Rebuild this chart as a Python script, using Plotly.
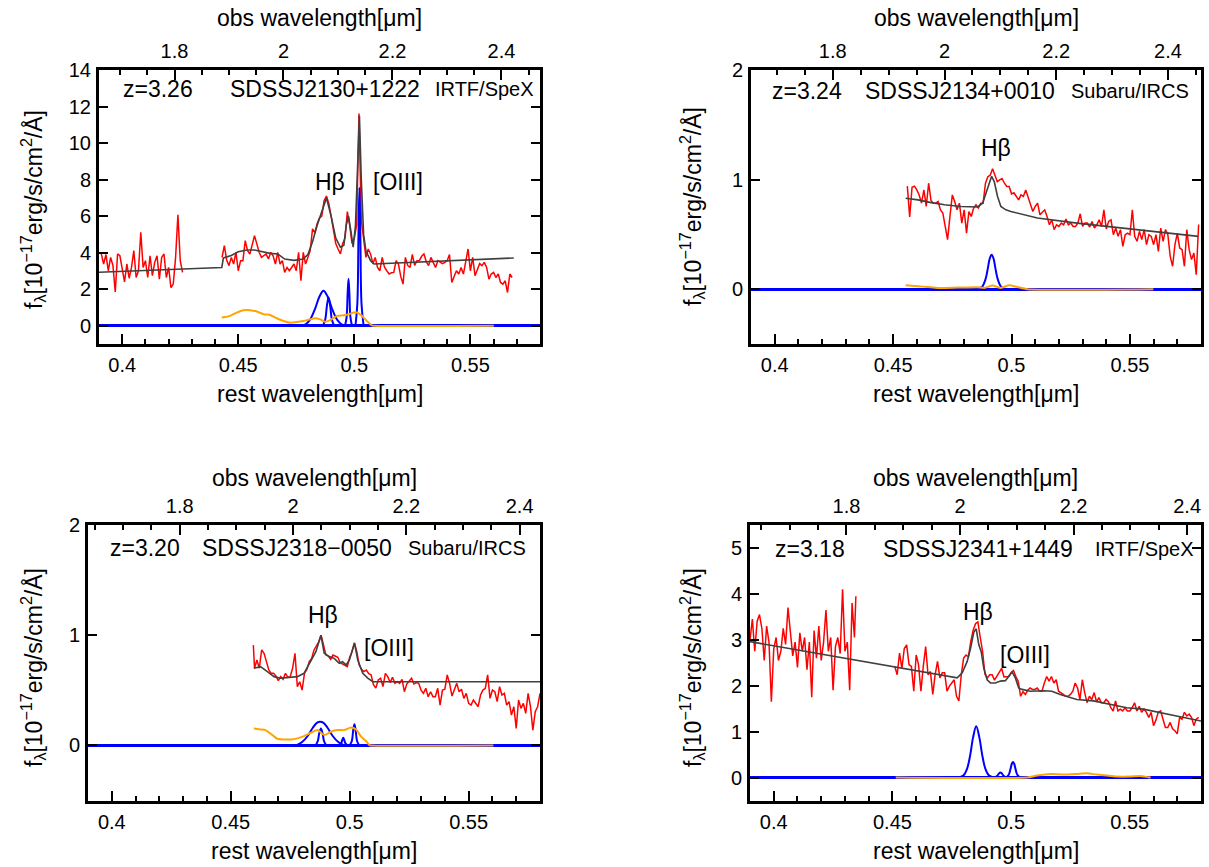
import plotly.graph_objects as go

W, H = 1209, 867
FONT = "Liberation Sans, Arial, Helvetica, sans-serif"

# ======================= DATA =======================
REST_RANGE = [0.39, 0.58]
REST_TICKS = [0.40, 0.45, 0.50, 0.55]
REST_TICK_TEXT = ["0.4", "0.45", "0.5", "0.55"]
OBS_TICKS = [1.8, 2.0, 2.2, 2.4]
OBS_TICK_TEXT = ["1.8", "2", "2.2", "2.4"]

# ---------- Panel 1: SDSSJ2130+1222 ----------
P1_Z = 3.26
P1_NAME = "SDSSJ2130+1222"
P1_INSTR = "IRTF/SpeX"
P1_YRANGE = [-1, 14]
P1_YTICKS = [0, 2, 4, 6, 8, 10, 12, 14]
P1_RED_A_WL = [0.391, 0.392, 0.393, 0.394, 0.395, 0.396, 0.397, 0.398, 0.399, 0.400,
               0.401, 0.402, 0.403, 0.404, 0.405, 0.406, 0.407, 0.408, 0.409, 0.410,
               0.411, 0.412, 0.413, 0.414, 0.415, 0.416, 0.417, 0.418, 0.419, 0.420,
               0.421, 0.422, 0.423, 0.424, 0.425, 0.426]
P1_RED_A_F = [3.93, 3.38, 3.90, 3.01, 3.74, 3.30, 1.85, 3.93, 3.83, 3.00,
              2.40, 3.38, 2.60, 3.19, 4.11, 2.64, 3.01, 5.12, 3.19, 3.56,
              2.64, 3.83, 2.74, 3.47, 3.83, 2.55, 3.74, 3.93, 2.64, 3.19,
              2.09, 2.28, 3.74, 6.07, 3.56, 2.92]
P1_RED_B_WL = [0.443, 0.444, 0.445, 0.446, 0.447, 0.448, 0.449, 0.450, 0.451, 0.452,
               0.453, 0.454, 0.455, 0.456, 0.457, 0.458, 0.459, 0.460, 0.461, 0.462,
               0.463, 0.464, 0.465, 0.466, 0.467, 0.468, 0.469, 0.470, 0.471, 0.472,
               0.473, 0.474, 0.475, 0.476, 0.477, 0.478, 0.479, 0.480, 0.481, 0.482,
               0.483, 0.484, 0.485, 0.486, 0.487, 0.488, 0.489, 0.490, 0.491, 0.492,
               0.493, 0.494, 0.495, 0.496, 0.497, 0.498, 0.499, 0.500, 0.501, 0.502,
               0.503, 0.504, 0.505, 0.506, 0.507, 0.508, 0.509, 0.510, 0.511, 0.512,
               0.513, 0.514, 0.515, 0.516, 0.517, 0.518, 0.519, 0.520, 0.521, 0.522,
               0.523, 0.524, 0.525, 0.526, 0.527, 0.528, 0.529, 0.530, 0.531, 0.532,
               0.533, 0.534, 0.535, 0.536, 0.537, 0.538, 0.539, 0.540, 0.541, 0.542,
               0.543, 0.544, 0.545, 0.546, 0.547, 0.548, 0.549, 0.550, 0.551, 0.552,
               0.553, 0.554, 0.555, 0.556, 0.557, 0.558, 0.559, 0.560, 0.561, 0.562,
               0.563, 0.564, 0.565, 0.566, 0.567, 0.568]
P1_RED_B_F = [3.74, 4.38, 3.60, 3.29, 3.74, 3.38, 4.02, 3.01, 3.56, 3.56,
              4.66, 4.11, 3.93, 4.48, 4.93, 4.48, 4.02, 3.74, 3.83, 3.93,
              3.65, 4.02, 3.83, 3.38, 4.02, 3.38, 3.56, 2.92, 3.19, 3.01,
              3.19, 3.38, 3.01, 4.02, 2.46, 4.02, 3.38, 3.74, 4.11, 5.30,
              5.10, 5.60, 5.90, 6.00, 6.86, 7.10, 6.70, 6.00, 5.20, 4.50,
              4.20, 3.93, 4.50, 4.80, 6.25, 5.50, 4.50, 4.80, 5.50, 11.62,
              5.80, 4.84, 3.74, 4.20, 3.93, 3.40, 3.74, 3.19, 3.01, 3.74,
              3.20, 3.01, 2.83, 2.90, 2.92, 3.56, 3.38, 2.70, 2.28, 3.74,
              3.30, 3.19, 3.90, 3.30, 3.56, 3.56, 3.80, 3.93, 3.50, 3.29,
              3.74, 3.47, 3.19, 3.56, 3.47, 3.40, 3.47, 3.56, 3.90, 2.37,
              2.70, 3.01, 2.83, 3.19, 2.83, 3.56, 4.20, 3.01, 3.74, 2.74,
              3.10, 3.40, 3.29, 3.47, 3.19, 2.55, 2.83, 2.92, 2.64, 2.83,
              2.37, 2.28, 2.46, 1.82, 2.83, 2.64]
P1_MODEL_WL = [0.390, 0.4429, 0.4436, 0.447, 0.450, 0.4537, 0.457, 0.460, 0.4637, 0.467,
               0.470, 0.474, 0.478, 0.480, 0.482, 0.484, 0.486, 0.488, 0.490, 0.492,
               0.494, 0.4955, 0.4965, 0.4975, 0.4985, 0.4995, 0.5005, 0.5015, 0.5022, 0.5030,
               0.504, 0.505, 0.507, 0.5085, 0.5687]
P1_MODEL_F = [2.93, 3.19, 3.71, 3.85, 4.05, 4.15, 4.15, 4.05, 3.96, 3.93,
              3.65, 3.58, 3.65, 3.90, 4.60, 5.50, 6.30, 7.00, 6.00, 4.80,
              4.30, 4.40, 5.50, 6.00, 5.20, 4.30, 5.50, 9.50, 11.50, 8.00,
              5.00, 4.10, 3.56, 3.38, 3.71]
P1_FE_WL = [0.4429, 0.4465, 0.4493, 0.4522, 0.4551, 0.4580, 0.4609, 0.4637, 0.4666, 0.4695,
            0.4723, 0.4752, 0.4781, 0.4810, 0.4831, 0.4853, 0.4875, 0.4896, 0.4925, 0.4954,
            0.4975, 0.4997, 0.5011, 0.5033, 0.5054, 0.5076, 0.5083, 0.5601]
P1_FE_F = [0.45, 0.54, 0.72, 0.85, 0.85, 0.78, 0.63, 0.59, 0.41, 0.26,
           0.17, 0.20, 0.26, 0.35, 0.41, 0.35, 0.22, 0.31, 0.54, 0.57,
           0.63, 0.72, 0.72, 0.54, 0.26, 0.02, 0.0, 0.0]
P1_HB_BROAD_WL = [0.4770, 0.4790, 0.4810, 0.4830, 0.4850, 0.4867, 0.4885, 0.4905, 0.4925, 0.4945, 0.4965]
P1_HB_BROAD_F = [0.0, 0.08, 0.35, 0.90, 1.60, 1.91, 1.60, 0.90, 0.35, 0.08, 0.0]
P1_HB_NARROW_WL = [0.4865, 0.4875, 0.4882, 0.4889, 0.4896, 0.4903, 0.4913]
P1_HB_NARROW_F = [0.0, 0.35, 1.10, 1.55, 1.10, 0.35, 0.0]
P1_O4959_WL = [0.4960, 0.4967, 0.4971, 0.4975, 0.4979, 0.4983, 0.4990]
P1_O4959_F = [0.0, 0.50, 1.70, 2.57, 1.70, 0.50, 0.0]
P1_O5007_WL = [0.5005, 0.5013, 0.5018, 0.5022, 0.5026, 0.5031, 0.5040]
P1_O5007_F = [0.0, 1.20, 5.00, 7.55, 5.00, 1.20, 0.0]

# ---------- Panel 2: SDSSJ2134+0010 ----------
P2_Z = 3.24
P2_NAME = "SDSSJ2134+0010"
P2_INSTR = "Subaru/IRCS"
P2_YRANGE = [-0.5, 2]
P2_YTICKS = [0, 1, 2]
P2_RED_WL = [0.456, 0.457, 0.458, 0.459, 0.460, 0.461, 0.462, 0.463, 0.464, 0.465,
             0.466, 0.467, 0.468, 0.469, 0.470, 0.471, 0.472, 0.473, 0.474, 0.475,
             0.476, 0.477, 0.478, 0.479, 0.480, 0.481, 0.482, 0.483, 0.484, 0.485,
             0.486, 0.487, 0.488, 0.489, 0.490, 0.491, 0.492, 0.493, 0.494, 0.495,
             0.496, 0.497, 0.498, 0.499, 0.500, 0.501, 0.502, 0.503, 0.504, 0.505,
             0.506, 0.507, 0.508, 0.509, 0.510, 0.511, 0.512, 0.513, 0.514, 0.515,
             0.516, 0.517, 0.518, 0.519, 0.520, 0.521, 0.522, 0.523, 0.524, 0.525,
             0.526, 0.527, 0.528, 0.529, 0.530, 0.531, 0.532, 0.533, 0.534, 0.535,
             0.536, 0.537, 0.538, 0.539, 0.540, 0.541, 0.542, 0.543, 0.544, 0.545,
             0.546, 0.547, 0.548, 0.549, 0.550, 0.551, 0.552, 0.553, 0.554, 0.555,
             0.556, 0.557, 0.558, 0.559, 0.560, 0.561, 0.562, 0.563, 0.564, 0.565,
             0.566, 0.567, 0.568, 0.569, 0.570, 0.571, 0.572, 0.573, 0.574, 0.575,
             0.576, 0.577, 0.578, 0.579]
P2_RED_F = [0.94, 0.66, 0.93, 0.94, 0.906, 0.86, 0.785, 0.906, 0.755, 0.967,
            0.81, 0.785, 0.785, 0.80, 0.724, 0.694, 0.573, 0.452, 0.664, 0.86,
            0.80, 0.724, 0.785, 0.603, 0.724, 0.512, 0.709, 0.664, 0.74, 0.77,
            0.74, 0.785, 0.785, 0.967, 1.027, 1.04, 1.10, 1.04, 0.98, 0.997,
            1.01, 0.967, 0.937, 0.937, 0.87, 0.88, 0.846, 0.815, 0.86, 0.846,
            0.906, 0.846, 0.785, 0.709, 0.755, 0.785, 0.679, 0.70, 0.724, 0.664,
            0.588, 0.633, 0.543, 0.588, 0.573, 0.603, 0.588, 0.64, 0.588, 0.603,
            0.573, 0.573, 0.603, 0.688, 0.573, 0.603, 0.603, 0.567, 0.618, 0.558,
            0.588, 0.633, 0.573, 0.724, 0.55, 0.618, 0.633, 0.497, 0.558, 0.482,
            0.543, 0.391, 0.497, 0.512, 0.497, 0.724, 0.482, 0.437, 0.528, 0.452,
            0.543, 0.406, 0.497, 0.482, 0.406, 0.497, 0.345, 0.558, 0.437, 0.543,
            0.497, 0.30, 0.209, 0.406, 0.512, 0.376, 0.361, 0.209, 0.543, 0.361,
            0.27, 0.33, 0.133, 0.59]
P2_MODEL_WL = [0.4553, 0.4605, 0.4661, 0.4717, 0.4787, 0.4857, 0.4878, 0.4892, 0.4906, 0.4916,
               0.4927, 0.4941, 0.4955, 0.4976, 0.4997, 0.5025, 0.5067, 0.5109, 0.5277, 0.5789]
P2_MODEL_F = [0.83, 0.815, 0.79, 0.77, 0.755, 0.75, 0.785, 0.876, 0.982, 1.03,
              0.982, 0.846, 0.755, 0.724, 0.709, 0.694, 0.67, 0.649, 0.603, 0.482]
P2_FE_WL = [0.4553, 0.4605, 0.4647, 0.4689, 0.4773, 0.4857, 0.4885, 0.4920, 0.4955, 0.4990,
            0.5025, 0.5067, 0.5599]
P2_FE_F = [0.036, 0.027, 0.02, 0.012, 0.015, 0.018, 0.012, 0.033, 0.012, 0.036,
           0.02, 0.0, 0.0]
P2_HB_WL = [0.4855, 0.4875, 0.4890, 0.4900, 0.4908, 0.4916, 0.4924, 0.4932, 0.4942, 0.4957, 0.4977]
P2_HB_F = [0.0, 0.02, 0.09, 0.19, 0.28, 0.315, 0.28, 0.19, 0.09, 0.02, 0.0]

# ---------- Panel 3: SDSSJ2318-0050 ----------
P3_Z = 3.20
P3_NAME = "SDSSJ2318\u22120050"
P3_INSTR = "Subaru/IRCS"
P3_YRANGE = [-0.5, 2]
P3_YTICKS = [0, 1, 2]
P3_RED_WL = [0.4595,
             0.460, 0.461, 0.462, 0.463, 0.464, 0.465, 0.466, 0.467, 0.468, 0.469,
             0.470, 0.471, 0.472, 0.473, 0.474, 0.475, 0.476, 0.477, 0.478, 0.479,
             0.480, 0.481, 0.482, 0.483, 0.484, 0.485, 0.486, 0.487, 0.488, 0.489,
             0.490, 0.491, 0.492, 0.493, 0.494, 0.495, 0.496, 0.497, 0.498, 0.499,
             0.500, 0.501, 0.502, 0.503, 0.504, 0.505, 0.506, 0.507, 0.508, 0.509,
             0.510, 0.511, 0.512, 0.513, 0.514, 0.515, 0.516, 0.517, 0.518, 0.519,
             0.520, 0.521, 0.522, 0.523, 0.524, 0.525, 0.526, 0.527, 0.528, 0.529,
             0.530, 0.531, 0.532, 0.533, 0.534, 0.535, 0.536, 0.537, 0.538, 0.539,
             0.540, 0.541, 0.542, 0.543, 0.544, 0.545, 0.546, 0.547, 0.548, 0.549,
             0.550, 0.551, 0.552, 0.553, 0.554, 0.555, 0.556, 0.557, 0.558, 0.559,
             0.560, 0.561, 0.562, 0.563, 0.564, 0.565, 0.566, 0.567, 0.568, 0.569,
             0.570, 0.571, 0.572, 0.573, 0.574, 0.575, 0.576, 0.577, 0.578, 0.579,
             0.580]
P3_RED_F = [0.91,
            0.70, 0.775, 0.70, 0.866, 0.836, 0.76, 0.684, 0.654, 0.654, 0.63,
            0.587, 0.624, 0.60, 0.654, 0.618, 0.624, 0.70, 0.836, 0.533, 0.578,
            0.502, 0.654, 0.69, 0.76, 0.79, 0.866, 0.90, 0.94, 1.00, 0.91,
            0.82, 0.81, 0.78, 0.82, 0.81, 0.80, 0.75, 0.74, 0.73, 0.715,
            0.80, 0.85, 0.93, 0.85, 0.73, 0.69, 0.67, 0.684, 0.65, 0.64,
            0.55, 0.52, 0.594, 0.61, 0.533, 0.654, 0.624, 0.57, 0.618, 0.563,
            0.578, 0.563, 0.60, 0.487, 0.557, 0.587, 0.61, 0.557, 0.57, 0.563,
            0.502, 0.472, 0.518, 0.442, 0.487, 0.442, 0.442, 0.518, 0.366, 0.502,
            0.51, 0.64, 0.563, 0.448, 0.502, 0.563, 0.487, 0.51, 0.427, 0.472,
            0.381, 0.366, 0.412, 0.381, 0.351, 0.457, 0.502, 0.518, 0.64, 0.427,
            0.502, 0.487, 0.397, 0.533, 0.457, 0.472, 0.366, 0.397, 0.275, 0.351,
            0.154, 0.412, 0.336, 0.381, 0.29, 0.472, 0.351, 0.139, 0.305, 0.351,
            0.472]
P3_MODEL_WL = [0.4597, 0.4625, 0.4654, 0.4682, 0.4710, 0.4752, 0.4780, 0.4808, 0.4837, 0.4858,
               0.4879, 0.4893, 0.4914, 0.4935, 0.4956, 0.4970, 0.4985, 0.4999, 0.5020, 0.5034,
               0.5055, 0.5076, 0.5097, 0.5808]
P3_MODEL_F = [0.70, 0.715, 0.67, 0.624, 0.61, 0.617, 0.624, 0.654, 0.76, 0.85,
              1.0, 0.836, 0.806, 0.79, 0.745, 0.76, 0.73, 0.775, 0.93, 0.775,
              0.654, 0.61, 0.578, 0.578]
P3_FE_WL = [0.4597, 0.4625, 0.4646, 0.4675, 0.4696, 0.4724, 0.4752, 0.4780, 0.4808, 0.4837,
            0.4865, 0.4893, 0.4921, 0.4949, 0.4977, 0.5006, 0.5027, 0.5048, 0.5069, 0.5083,
            0.5090, 0.5604]
P3_FE_F = [0.154, 0.145, 0.139, 0.094, 0.06, 0.054, 0.054, 0.064, 0.084, 0.115,
           0.14, 0.094, 0.124, 0.139, 0.139, 0.163, 0.145, 0.079, 0.04, 0.003,
           0.0, 0.0]
P3_HB_BROAD_WL = [0.4775, 0.4800, 0.4825, 0.4845, 0.4862, 0.4876, 0.4890, 0.4907, 0.4927, 0.4952, 0.4977]
P3_HB_BROAD_F = [0.0, 0.03, 0.09, 0.16, 0.205, 0.215, 0.205, 0.16, 0.09, 0.03, 0.0]
P3_HB_NARROW_WL = [0.4857, 0.4866, 0.4872, 0.4879, 0.4886, 0.4892, 0.4901]
P3_HB_NARROW_F = [0.0, 0.04, 0.11, 0.154, 0.11, 0.04, 0.0]
P3_O4959_WL = [0.4955, 0.4964, 0.4969, 0.4973, 0.4977, 0.4982, 0.4991]
P3_O4959_F = [0.0, 0.02, 0.05, 0.069, 0.05, 0.02, 0.0]
P3_O5007_WL = [0.5000, 0.5009, 0.5015, 0.5020, 0.5025, 0.5031, 0.5040]
P3_O5007_F = [0.0, 0.04, 0.14, 0.193, 0.14, 0.04, 0.0]

# ---------- Panel 4: SDSSJ2341+1449 ----------
P4_Z = 3.18
P4_NAME = "SDSSJ2341+1449"
P4_INSTR = "IRTF/SpeX"
P4_YRANGE = [-0.5, 5.5]
P4_YTICKS = [0, 1, 2, 3, 4, 5]
P4_RED_A_WL = [0.390, 0.391, 0.392, 0.393, 0.394, 0.395, 0.396, 0.397, 0.398, 0.399,
               0.400, 0.401, 0.402, 0.403, 0.404, 0.405, 0.406, 0.407, 0.408, 0.409,
               0.410, 0.411, 0.412, 0.413, 0.414, 0.415, 0.416, 0.417, 0.418, 0.419,
               0.420, 0.421, 0.422, 0.423, 0.424, 0.425, 0.426, 0.427, 0.428, 0.429,
               0.430, 0.431, 0.432, 0.433, 0.434, 0.4346]
P4_RED_A_F = [3.00, 3.45, 2.75, 3.40, 3.55, 3.25, 2.55, 3.30, 2.95, 1.65,
              2.80, 3.05, 2.55, 2.75, 3.25, 2.90, 3.70, 3.20, 2.65, 2.95,
              2.40, 3.15, 2.75, 3.05, 2.35, 2.95, 1.75, 3.20, 2.60, 3.30,
              2.55, 2.95, 3.65, 2.75, 3.05, 1.90, 2.85, 3.05, 2.70, 4.10,
              2.75, 2.95, 1.90, 3.80, 3.05, 3.95]
P4_RED_B_WL = [0.451, 0.452, 0.453, 0.454, 0.455, 0.456, 0.457, 0.458, 0.459, 0.460,
               0.461, 0.462, 0.463, 0.464, 0.465, 0.466, 0.467, 0.468, 0.469, 0.470,
               0.471, 0.472, 0.473, 0.474, 0.475, 0.476, 0.477, 0.478, 0.479, 0.480,
               0.481, 0.482, 0.483, 0.484, 0.485, 0.486, 0.487, 0.488, 0.489, 0.490,
               0.491, 0.492, 0.493, 0.494, 0.495, 0.496, 0.497, 0.498, 0.499, 0.500,
               0.501, 0.502, 0.503, 0.504, 0.505, 0.506, 0.507, 0.508, 0.509, 0.510,
               0.511, 0.512, 0.513, 0.514, 0.515, 0.516, 0.517, 0.518, 0.519, 0.520,
               0.521, 0.522, 0.523, 0.524, 0.525, 0.526, 0.527, 0.528, 0.529, 0.530,
               0.531, 0.532, 0.533, 0.534, 0.535, 0.536, 0.537, 0.538, 0.539, 0.540,
               0.541, 0.542, 0.543, 0.544, 0.545, 0.546, 0.547, 0.548, 0.549, 0.550,
               0.551, 0.552, 0.553, 0.554, 0.555, 0.556, 0.557, 0.558, 0.559, 0.560,
               0.561, 0.562, 0.563, 0.564, 0.565, 0.566, 0.567, 0.568, 0.569, 0.570,
               0.571, 0.572, 0.573, 0.574, 0.575, 0.576, 0.577, 0.578, 0.579]
P4_RED_B_F = [2.42, 2.24, 2.71, 2.38, 2.81, 2.89, 2.46, 2.42, 1.88, 2.67,
              2.46, 1.88, 2.42, 2.85, 2.24, 2.31, 1.81, 2.24, 2.53, 2.17,
              2.28, 2.28, 1.88, 1.99, 2.06, 2.13, 1.77, 1.67, 2.24, 2.60,
              2.67, 2.63, 2.96, 3.21, 3.35, 3.39, 3.05, 2.74, 2.25, 2.17,
              2.24, 2.24, 2.12, 2.20, 2.28, 2.38, 2.19, 2.20, 2.20, 2.28,
              2.33, 2.20, 2.10, 1.77, 1.87, 1.81, 1.90, 1.95, 1.92, 1.92,
              1.95, 1.88, 1.88, 2.06, 2.20, 2.10, 2.20, 2.06, 2.13, 1.88,
              1.85, 1.81, 1.77, 1.77, 1.81, 1.88, 2.06, 1.95, 1.70, 2.13,
              1.85, 1.63, 1.77, 1.70, 1.85, 1.65, 1.74, 1.63, 1.63, 1.70,
              1.65, 1.52, 1.45, 1.67, 1.45, 1.49, 1.45, 1.52, 1.45, 1.45,
              1.52, 1.63, 1.45, 1.55, 1.42, 1.49, 1.42, 1.31, 1.42, 1.13,
              1.25, 1.42, 1.45, 1.27, 1.09, 1.09, 1.20, 1.06, 1.02, 0.95,
              1.31, 1.27, 1.42, 1.34, 1.38, 1.31, 1.13, 1.27, 1.31]
P4_MODEL_WL = [0.3900, 0.4773, 0.4794, 0.4815, 0.4829, 0.4843, 0.4853, 0.4864, 0.4874, 0.4885,
               0.4899, 0.4913, 0.4934, 0.4955, 0.4976, 0.4997, 0.5004, 0.5018, 0.5032, 0.5046,
               0.5081, 0.5137, 0.5172, 0.5207, 0.5277, 0.5347, 0.5417, 0.5487, 0.5557, 0.5627,
               0.5697, 0.5800]
P4_MODEL_F = [2.96, 2.17, 2.28, 2.53, 2.81, 3.17, 3.24, 2.89, 2.74, 2.38,
              2.13, 2.06, 2.06, 2.10, 2.11, 2.24, 2.30, 2.17, 1.95, 1.92,
              1.88, 1.89, 1.88, 1.81, 1.70, 1.67, 1.60, 1.52, 1.49, 1.42,
              1.34, 1.23]
P4_FE_WL = [0.4514, 0.5067, 0.5109, 0.5165, 0.5221, 0.5277, 0.5319, 0.5361, 0.5403, 0.5445,
            0.5501, 0.5543, 0.5578, 0.5588]
P4_FE_F = [0.0, 0.0, 0.043, 0.079, 0.065, 0.079, 0.093, 0.065, 0.043, 0.022,
           0.022, 0.036, 0.007, 0.0]
P4_HB_WL = [0.4780, 0.4800, 0.4815, 0.4828, 0.4840, 0.4853, 0.4866, 0.4878, 0.4891, 0.4906, 0.4926]
P4_HB_F = [0.0, 0.05, 0.20, 0.50, 0.88, 1.115, 0.88, 0.50, 0.20, 0.05, 0.0]
P4_O4959_WL = [0.4930, 0.4942, 0.4949, 0.4955, 0.4961, 0.4968, 0.4980]
P4_O4959_F = [0.0, 0.04, 0.09, 0.11, 0.09, 0.04, 0.0]
P4_O5007_WL = [0.4978, 0.4990, 0.4998, 0.5003, 0.5008, 0.5013, 0.5018, 0.5026, 0.5040]
P4_O5007_F = [0.0, 0.06, 0.20, 0.30, 0.34, 0.30, 0.20, 0.06, 0.0]

# ======================= LAYOUT CONFIG =======================
RED, GRAY, BLUE, ORANGE = "#ff0000", "#404040", "#0000ff", "#ffa500"
YTITLE = "f<sub>\u03bb</sub>[10<sup>\u221217</sup>erg/s/cm<sup>2</sup>/\u00c5]"

panels = [
    dict(z=P1_Z, name=P1_NAME, instr=P1_INSTR, yrange=P1_YRANGE, yticks=P1_YTICKS,
         red=[(P1_RED_A_WL, P1_RED_A_F), (P1_RED_B_WL, P1_RED_B_F)],
         model=(P1_MODEL_WL, P1_MODEL_F), fe=(P1_FE_WL, P1_FE_F),
         gauss=[(P1_HB_BROAD_WL, P1_HB_BROAD_F), (P1_HB_NARROW_WL, P1_HB_NARROW_F),
                (P1_O4959_WL, P1_O4959_F), (P1_O5007_WL, P1_O5007_F)],
         labels=[("H\u03b2", 0.4896, 7.85), ("[OIII]", 0.5189, 7.85)],
         box=(99, 540, 70, 344), text_y=89, text_x=(158, 325, 484),
         top_title_y=18, bot_title_y=394, ytitle_xy=(33, 210)),
    dict(z=P2_Z, name=P2_NAME, instr=P2_INSTR, yrange=P2_YRANGE, yticks=P2_YTICKS,
         red=[(P2_RED_WL, P2_RED_F)],
         model=(P2_MODEL_WL, P2_MODEL_F), fe=(P2_FE_WL, P2_FE_F),
         gauss=[(P2_HB_WL, P2_HB_F)],
         labels=[("H\u03b2", 0.4936, 1.29)],
         box=(751, 1201, 70, 344), text_y=91, text_x=(807, 960, 1130),
         top_title_y=18, bot_title_y=394, ytitle_xy=(692, 207)),
    dict(z=P3_Z, name=P3_NAME, instr=P3_INSTR, yrange=P3_YRANGE, yticks=P3_YTICKS,
         red=[(P3_RED_WL, P3_RED_F)],
         model=(P3_MODEL_WL, P3_MODEL_F), fe=(P3_FE_WL, P3_FE_F),
         gauss=[(P3_HB_BROAD_WL, P3_HB_BROAD_F), (P3_HB_NARROW_WL, P3_HB_NARROW_F),
                (P3_O4959_WL, P3_O4959_F), (P3_O5007_WL, P3_O5007_F)],
         labels=[("H\u03b2", 0.4889, 1.185), ("[OIII]", 0.5164, 0.885)],
         box=(88, 540, 525, 800.5), text_y=548, text_x=(145, 297, 467),
         top_title_y=478, bot_title_y=851, ytitle_xy=(33, 668)),
    dict(z=P4_Z, name=P4_NAME, instr=P4_INSTR, yrange=P4_YRANGE, yticks=P4_YTICKS,
         red=[(P4_RED_A_WL, P4_RED_A_F), (P4_RED_B_WL, P4_RED_B_F)],
         model=(P4_MODEL_WL, P4_MODEL_F), fe=(P4_FE_WL, P4_FE_F),
         gauss=[(P4_HB_WL, P4_HB_F), (P4_O4959_WL, P4_O4959_F), (P4_O5007_WL, P4_O5007_F)],
         labels=[("H\u03b2", 0.486, 3.6), ("[OIII]", 0.5058, 2.66)],
         box=(750, 1201, 525, 800.5), text_y=549, text_x=(810, 978, 1144),
         top_title_y=478, bot_title_y=851, ytitle_xy=(692, 668)),
]


def px_x(v):
    return v / W


def px_y(v):
    return 1 - v / H


fig = go.Figure()
layout = dict(width=W, height=H, autosize=False, margin=dict(l=0, r=0, t=0, b=0, pad=0),
              paper_bgcolor="white", plot_bgcolor="white", showlegend=False,
              font=dict(family=FONT, color="black"))
annotations = []

tickfont = dict(family=FONT, size=20, color="black")

for i, p in enumerate(panels, start=1):
    xid = "x" if i == 1 else f"x{i}"
    yid = "y" if i == 1 else f"y{i}"
    tid = f"x{i + 4}"
    xkey = "xaxis" if i == 1 else f"xaxis{i}"
    ykey = "yaxis" if i == 1 else f"yaxis{i}"
    tkey = f"xaxis{i + 4}"
    l, r, t, b = p["box"]
    xdom = [px_x(l), px_x(r)]
    ydom = [px_y(b), px_y(t)]

    for wl, f in p["red"]:
        fig.add_trace(go.Scatter(x=wl, y=f, mode="lines", line=dict(color=RED, width=1.5),
                                 xaxis=xid, yaxis=yid, hoverinfo="skip"))
    fig.add_trace(go.Scatter(x=p["model"][0], y=p["model"][1], mode="lines",
                             line=dict(color=GRAY, width=1.6), xaxis=xid, yaxis=yid, hoverinfo="skip"))
    for wl, f in p["gauss"]:
        fig.add_trace(go.Scatter(x=wl, y=f, mode="lines",
                                 line=dict(color=BLUE, width=2, shape="spline", smoothing=1.0),
                                 xaxis=xid, yaxis=yid, hoverinfo="skip"))
    fig.add_trace(go.Scatter(x=p["fe"][0], y=p["fe"][1], mode="lines",
                             line=dict(color=ORANGE, width=2, shape="spline", smoothing=0.6),
                             xaxis=xid, yaxis=yid, hoverinfo="skip"))
    # empty trace so that the observed-wavelength (top) axis is drawn
    fig.add_trace(go.Scatter(x=[], y=[], mode="lines", xaxis=tid, yaxis=yid,
                             hoverinfo="skip", showlegend=False))

    layout[xkey] = dict(domain=xdom, anchor=yid, range=REST_RANGE, tickmode="array",
                        tickvals=REST_TICKS, ticktext=REST_TICK_TEXT, ticks="inside",
                        ticklen=10, tickwidth=2, tickcolor="black",
                        minor=dict(tickmode="linear", tick0=0, dtick=0.01, ticks="inside",
                                   ticklen=5, tickwidth=1.5, tickcolor="black"),
                        showline=True, linewidth=3, linecolor="black", mirror=True,
                        showgrid=False, zeroline=False, tickfont=tickfont,
                        ticklabelstandoff=1, automargin=False, fixedrange=True)
    layout[tkey] = dict(domain=xdom, overlaying=xid, anchor=yid, side="top",
                        range=[REST_RANGE[0] * (1 + p["z"]), REST_RANGE[1] * (1 + p["z"])],
                        tickmode="array", tickvals=OBS_TICKS, ticktext=OBS_TICK_TEXT,
                        ticks="inside", ticklen=10, tickwidth=2, tickcolor="black",
                        minor=dict(tickmode="linear", tick0=0, dtick=0.05, ticks="inside",
                                   ticklen=5, tickwidth=1.5, tickcolor="black"),
                        showline=False, showgrid=False, zeroline=False, tickfont=tickfont,
                        ticklabelstandoff=7, automargin=False, fixedrange=True)
    layout[ykey] = dict(domain=ydom, anchor=xid, range=p["yrange"], tickmode="array",
                        tickvals=p["yticks"], ticks="inside", ticklen=9, tickwidth=2,
                        tickcolor="black", showline=True, linewidth=3, linecolor="black",
                        mirror="ticks", showgrid=False, zeroline=True, zerolinecolor=BLUE,
                        zerolinewidth=3, tickfont=tickfont, ticklabelstandoff=1,
                        automargin=False, fixedrange=True)

    cx = (l + r) / 2
    annotations.append(dict(text="obs wavelength[\u03bcm]", x=px_x(cx), y=px_y(p["top_title_y"]),
                            xref="paper", yref="paper", showarrow=False, xanchor="center",
                            yanchor="middle", font=dict(family=FONT, size=23, color="black")))
    annotations.append(dict(text="rest wavelength[\u03bcm]", x=px_x(cx), y=px_y(p["bot_title_y"]),
                            xref="paper", yref="paper", showarrow=False, xanchor="center",
                            yanchor="middle", font=dict(family=FONT, size=23, color="black")))
    annotations.append(dict(text=YTITLE, x=px_x(p["ytitle_xy"][0]), y=px_y(p["ytitle_xy"][1]),
                            xref="paper", yref="paper", showarrow=False, textangle=-90,
                            xanchor="center", yanchor="middle",
                            font=dict(family=FONT, size=23, color="black")))
    tx = p["text_x"]
    for txt, xx, size in ((f"z={p['z']:.2f}", tx[0], 23), (p["name"], tx[1], 23), (p["instr"], tx[2], 20)):
        annotations.append(dict(text=txt, x=px_x(xx), y=px_y(p["text_y"]), xref="paper", yref="paper",
                                showarrow=False, xanchor="center", yanchor="middle",
                                font=dict(family=FONT, size=size, color="black")))
    for txt, lx, ly in p["labels"]:
        annotations.append(dict(text=txt, x=lx, y=ly, xref=xid, yref=yid, showarrow=False,
                                xanchor="center", yanchor="middle",
                                font=dict(family=FONT, size=23, color="black")))

layout["annotations"] = annotations
fig.update_layout(**layout)
fig.write_html("out.html")
